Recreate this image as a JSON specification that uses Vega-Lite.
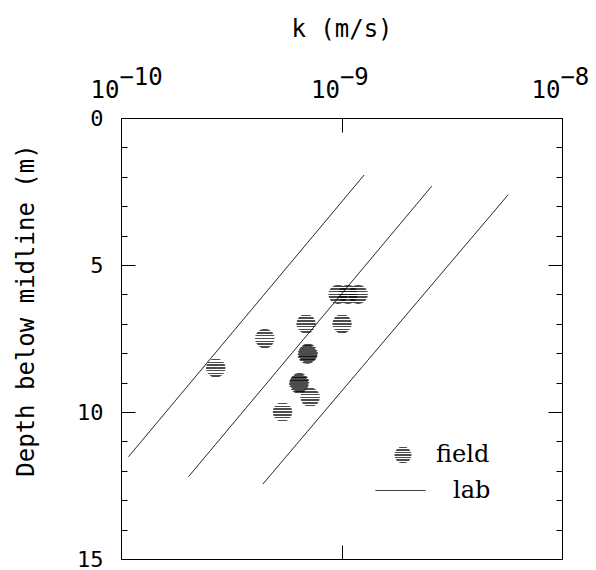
{
  "$schema": "https://vega.github.io/schema/vega-lite/v6.json",
  "autosize": {"type": "none"},
  "padding": {"left": 121, "top": 118, "right": 34, "bottom": 11},
  "width": 441,
  "height": 441,
  "background": "white",
  "config": {
    "view": {"stroke": "black", "strokeWidth": 1},
    "axis": {"domainColor": "black", "tickColor": "black", "grid": false, "labelColor": "black", "titleColor": "black"}
  },
  "datasets": {
    "lab": [
      {"line": "a", "type": "lab", "k": 1.082e-10, "depth": 11.52},
      {"line": "a", "type": "lab", "k": 1.266e-9, "depth": 1.94},
      {"line": "b", "type": "lab", "k": 2.024e-10, "depth": 12.2},
      {"line": "b", "type": "lab", "k": 2.565e-9, "depth": 2.32},
      {"line": "c", "type": "lab", "k": 4.40e-10, "depth": 12.45},
      {"line": "c", "type": "lab", "k": 5.70e-9, "depth": 2.61}
    ],
    "field": [
      {"type": "field", "k": 2.69e-10, "depth": 8.5},
      {"type": "field", "k": 4.49e-10, "depth": 7.5},
      {"type": "field", "k": 6.91e-10, "depth": 7.0},
      {"type": "field", "k": 1.006e-9, "depth": 7.0},
      {"type": "field", "k": 7.06e-10, "depth": 8.0},
      {"type": "field", "k": 7.0e-10, "depth": 8.04},
      {"type": "field", "k": 6.45e-10, "depth": 9.0},
      {"type": "field", "k": 6.4e-10, "depth": 9.04},
      {"type": "field", "k": 7.21e-10, "depth": 9.5},
      {"type": "field", "k": 5.40e-10, "depth": 10.0},
      {"type": "field", "k": 9.65e-10, "depth": 6.0},
      {"type": "field", "k": 1.07e-9, "depth": 6.0},
      {"type": "field", "k": 1.19e-9, "depth": 6.0}
    ]
  },
  "layer": [
    {
      "data": {"name": "lab"},
      "mark": {"type": "line", "color": "black", "strokeWidth": 1},
      "encoding": {
        "x": {
          "field": "k", "type": "quantitative",
          "scale": {"type": "log", "domain": [1e-10, 1e-8], "nice": false},
          "axis": {
            "orient": "top",
            "values": [1e-10, 1e-9, 1e-8],
            "labelExpr": "datum.value < 3e-10 ? ['\u200b\u2007\u2007−10', '10'] : datum.value < 3e-9 ? ['\u200b\u2007\u2007−9', '10'] : ['\u200b\u2007\u2007−8', '10']",
            "labelFont": "DejaVu Sans Mono", "labelFontSize": 24, "labelLineHeight": 13,
            "labelAlign": "left", "labelOffset": -31, "labelBaseline": "alphabetic",
            "labelPadding": 48, "labelFlush": false, "labelOverlap": false,
            "tickSize": -14,
            "title": "k (m/s)", "titleFont": "DejaVu Sans Mono", "titleFontSize": 24, "titleFontWeight": "normal",
            "titleX": 220.5, "titleY": -82, "titleAlign": "center", "titleBaseline": "alphabetic"
          }
        },
        "y": {
          "field": "depth", "type": "quantitative",
          "scale": {"domain": [0, 15], "nice": false, "zero": false, "reverse": true},
          "axis": {
            "orient": "left",
            "values": [0,1,2,3,4,5,6,7,8,9,10,11,12,13,14,15],
            "labelExpr": "datum.value % 5 === 0 ? datum.label : ''",
            "tickSize": {"condition": {"test": "datum.value % 5 === 0", "value": -14}, "value": -6},
            "labelPadding": 32,
            "labelFont": "DejaVu Sans Mono", "labelFontSize": 22,
            "labelAlign": "right", "labelBaseline": "middle", "labelFlush": false, "labelOverlap": false,
            "title": "Depth below midline (m)", "titleFont": "DejaVu Sans Mono", "titleFontSize": 24, "titleFontWeight": "normal",
            "titleAngle": -90, "titleX": -88, "titleY": 192, "titleAlign": "center", "titleBaseline": "alphabetic"
          }
        },
        "detail": {"field": "line"},
        "strokeDash": {
          "field": "type", "type": "nominal",
          "scale": {"domain": ["lab"], "range": [[1, 0]]},
          "legend": {
            "orient": "none", "legendX": 254, "legendY": 347, "title": null, "padding": 0,
            "symbolType": "stroke", "symbolSize": 2500, "symbolStrokeColor": "black", "symbolStrokeWidth": 1,
            "labelFont": "DejaVu Serif", "labelFontSize": 24, "labelOffset": 27, "labelColor": "black", "labelBaseline": "middle"
          }
        }
      }
    },
    {
      "data": {"name": "field"},
      "mark": {
        "type": "point", "shape": "circle", "filled": true, "size": 380, "strokeWidth": 0,
        "fill": {
          "gradient": "linear", "x1": 0, "y1": 0, "x2": 0, "y2": 1,
          "stops": [
            {"offset": 0, "color": "rgba(255,255,255,0)"},
            {"offset": 0.031, "color": "rgba(255,255,255,0)"}, {"offset": 0.031, "color": "black"}, {"offset": 0.111, "color": "black"}, {"offset": 0.111, "color": "rgba(255,255,255,0)"},
            {"offset": 0.174, "color": "rgba(255,255,255,0)"}, {"offset": 0.174, "color": "black"}, {"offset": 0.254, "color": "black"}, {"offset": 0.254, "color": "rgba(255,255,255,0)"},
            {"offset": 0.317, "color": "rgba(255,255,255,0)"}, {"offset": 0.317, "color": "black"}, {"offset": 0.397, "color": "black"}, {"offset": 0.397, "color": "rgba(255,255,255,0)"},
            {"offset": 0.46, "color": "rgba(255,255,255,0)"}, {"offset": 0.46, "color": "black"}, {"offset": 0.54, "color": "black"}, {"offset": 0.54, "color": "rgba(255,255,255,0)"},
            {"offset": 0.603, "color": "rgba(255,255,255,0)"}, {"offset": 0.603, "color": "black"}, {"offset": 0.683, "color": "black"}, {"offset": 0.683, "color": "rgba(255,255,255,0)"},
            {"offset": 0.746, "color": "rgba(255,255,255,0)"}, {"offset": 0.746, "color": "black"}, {"offset": 0.826, "color": "black"}, {"offset": 0.826, "color": "rgba(255,255,255,0)"},
            {"offset": 0.889, "color": "rgba(255,255,255,0)"}, {"offset": 0.889, "color": "black"}, {"offset": 0.969, "color": "black"}, {"offset": 0.969, "color": "rgba(255,255,255,0)"},
            {"offset": 1, "color": "rgba(255,255,255,0)"}
          ]
        }
      },
      "encoding": {
        "x": {
          "field": "k", "type": "quantitative",
          "scale": {"type": "log", "domain": [1e-10, 1e-8], "nice": false},
          "axis": {"orient": "bottom", "values": [1e-10, 1e-9, 1e-8], "labels": false, "tickSize": -14, "title": null}
        },
        "y": {
          "field": "depth", "type": "quantitative",
          "scale": {"domain": [0, 15], "nice": false, "zero": false, "reverse": true},
          "axis": {
            "orient": "right", "values": [0,1,2,3,4,5,6,7,8,9,10,11,12,13,14,15], "labels": false, "title": null,
            "tickSize": {"condition": {"test": "datum.value % 5 === 0", "value": -14}, "value": -6}
          }
        },
        "shape": {
          "field": "type", "type": "nominal",
          "scale": {"domain": ["field"], "range": ["circle"]},
          "legend": {
            "orient": "none", "legendX": 270, "legendY": 325, "title": null, "padding": 0,
            "symbolSize": 290, "symbolStrokeWidth": 0,
            "labelFont": "DejaVu Serif", "labelFontSize": 24, "labelOffset": 21, "labelColor": "black", "labelBaseline": "middle",
            "encode": {
              "symbols": {
                "update": {
                  "stroke": {"value": "transparent"},
                  "fill": {"value": {
                    "gradient": "linear", "x1": 0, "y1": 0, "x2": 0, "y2": 1,
                    "stops": [
                      {"offset": 0, "color": "rgba(255,255,255,0)"},
                      {"offset": 0.031, "color": "rgba(255,255,255,0)"}, {"offset": 0.031, "color": "black"}, {"offset": 0.111, "color": "black"}, {"offset": 0.111, "color": "rgba(255,255,255,0)"},
                      {"offset": 0.174, "color": "rgba(255,255,255,0)"}, {"offset": 0.174, "color": "black"}, {"offset": 0.254, "color": "black"}, {"offset": 0.254, "color": "rgba(255,255,255,0)"},
                      {"offset": 0.317, "color": "rgba(255,255,255,0)"}, {"offset": 0.317, "color": "black"}, {"offset": 0.397, "color": "black"}, {"offset": 0.397, "color": "rgba(255,255,255,0)"},
                      {"offset": 0.46, "color": "rgba(255,255,255,0)"}, {"offset": 0.46, "color": "black"}, {"offset": 0.54, "color": "black"}, {"offset": 0.54, "color": "rgba(255,255,255,0)"},
                      {"offset": 0.603, "color": "rgba(255,255,255,0)"}, {"offset": 0.603, "color": "black"}, {"offset": 0.683, "color": "black"}, {"offset": 0.683, "color": "rgba(255,255,255,0)"},
                      {"offset": 0.746, "color": "rgba(255,255,255,0)"}, {"offset": 0.746, "color": "black"}, {"offset": 0.826, "color": "black"}, {"offset": 0.826, "color": "rgba(255,255,255,0)"},
                      {"offset": 0.889, "color": "rgba(255,255,255,0)"}, {"offset": 0.889, "color": "black"}, {"offset": 0.969, "color": "black"}, {"offset": 0.969, "color": "rgba(255,255,255,0)"},
                      {"offset": 1, "color": "rgba(255,255,255,0)"}
                    ]
                  }}
                }
              }
            }
          }
        }
      }
    }
  ],
  "resolve": {"axis": {"x": "independent", "y": "independent"}}
}
